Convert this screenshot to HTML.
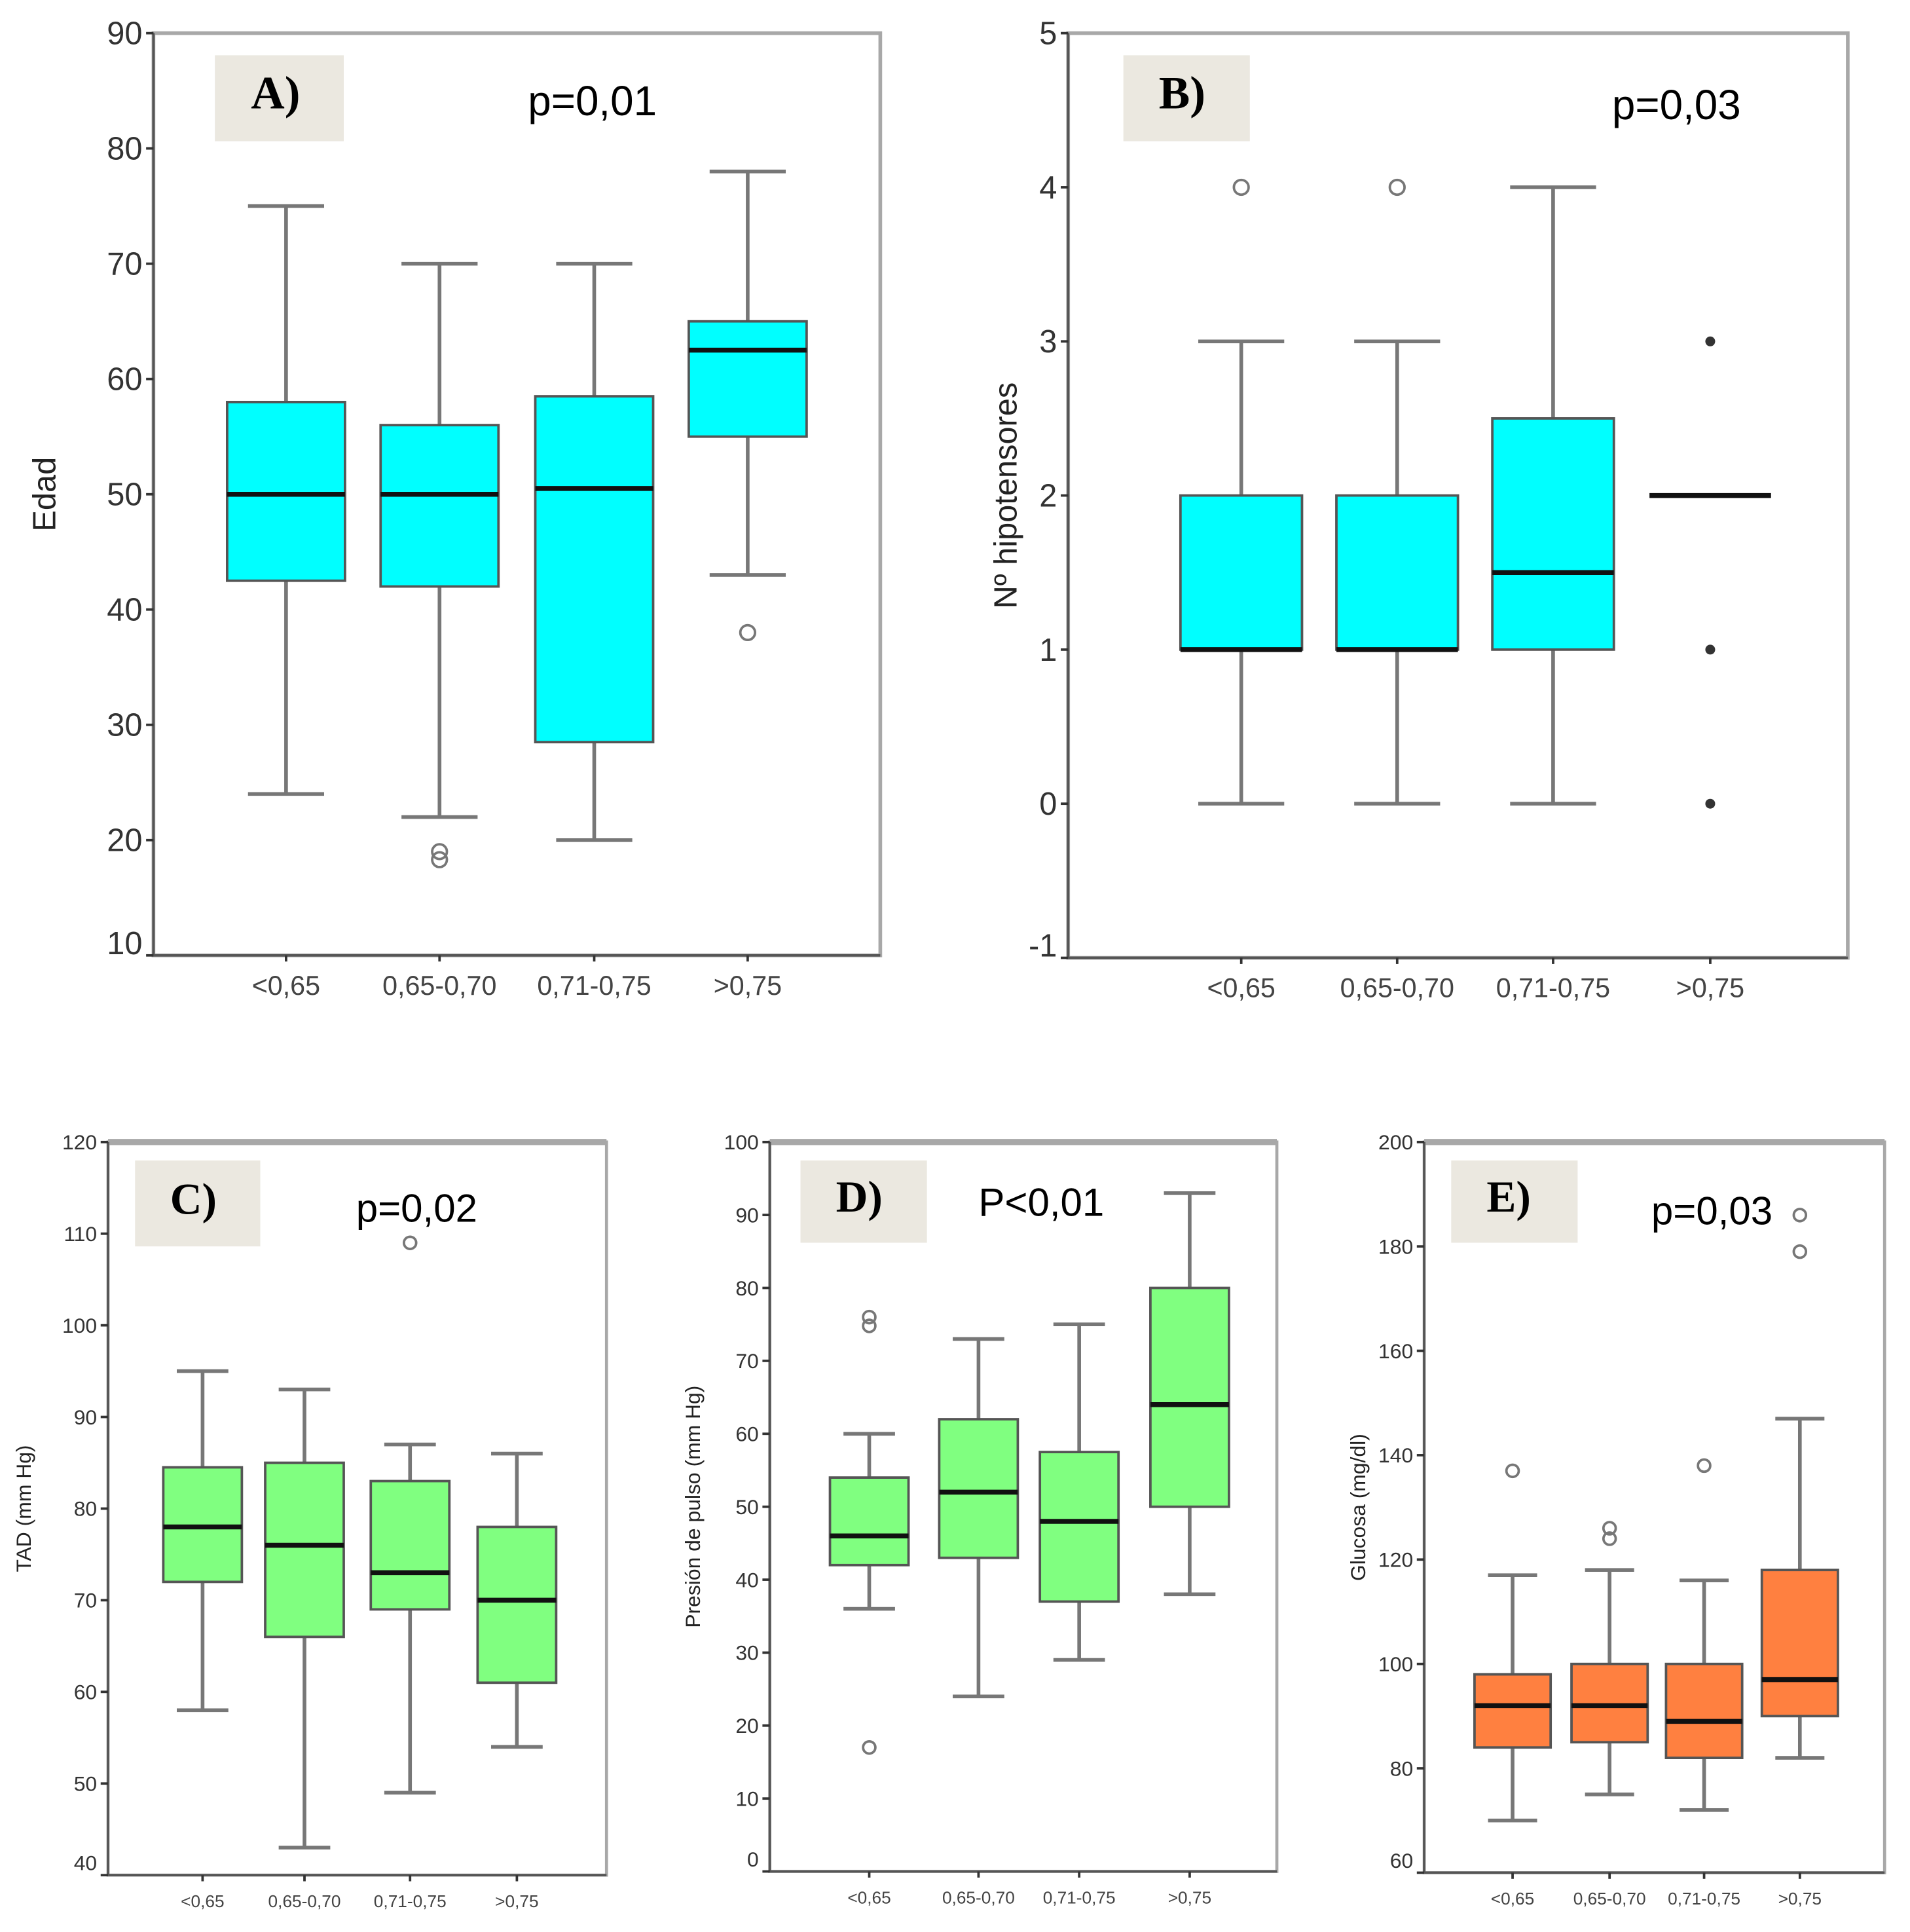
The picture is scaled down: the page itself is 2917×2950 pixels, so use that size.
<!DOCTYPE html>
<html><head><meta charset="utf-8"><style>
html,body{margin:0;padding:0;background:#fff}
svg{display:block}
text{font-family:"Liberation Sans",sans-serif}
text.serif{font-family:"Liberation Serif",serif}
</style></head><body>
<svg id="fig" xmlns="http://www.w3.org/2000/svg" width="2917" height="2950" viewBox="0 0 1555.7 1573.3" preserveAspectRatio="none"></svg>
<script>
const categories = ["<0,65","0,65-0,70","0,71-0,75",">0,75"];
// Panel A: Edad
const aWhiskLo=[24,22,20,43], aQ1=[42.5,42,28.5,55], aMed=[50,50,50.5,62.5], aQ3=[58,56,58.5,65], aWhiskHi=[75,70,70,78];
const aOutliers=[[],[19,18.3],[],[38]];
const aTicks=[10,20,30,40,50,60,70,80,90];
// Panel B: Nº hipotensores
const bWhiskLo=[0,0,0,null], bQ1=[1,1,1,2], bMed=[1,1,1.5,2], bQ3=[2,2,2.5,2], bWhiskHi=[3,3,4,null];
const bOutliers=[[4],[4],[],[]]; const bExtremes=[[],[],[],[3,1,0]];
const bTicks=[-1,0,1,2,3,4,5];
// Panel C: TAD
const cWhiskLo=[58,43,49,54], cQ1=[72,66,69,61], cMed=[78,76,73,70], cQ3=[84.5,85,83,78], cWhiskHi=[95,93,87,86];
const cOutliers=[[],[],[109],[]];
const cTicks=[40,50,60,70,80,90,100,110,120];
// Panel D: Presión de pulso
const dWhiskLo=[36,24,29,38], dQ1=[42,43,37,50], dMed=[46,52,48,64], dQ3=[54,62,57.5,80], dWhiskHi=[60,73,75,93];
const dOutliers=[[76,74.8,17],[],[],[]];
const dTicks=[0,10,20,30,40,50,60,70,80,90,100];
// Panel E: Glucosa
const eWhiskLo=[70,75,72,82], eQ1=[84,85,82,90], eMed=[92,92,89,97], eQ3=[98,100,100,118], eWhiskHi=[117,118,116,147];
const eOutliers=[[137],[124,126],[138],[179,186]];
const eTicks=[60,80,100,120,140,160,180,200];

const NS="http://www.w3.org/2000/svg";
const svg=document.getElementById('fig');
function mk(tag,attrs,parent){const e=document.createElementNS(NS,tag);for(const k in attrs)e.setAttribute(k,attrs[k]);(parent||svg).appendChild(e);return e;}

function panel(cfg){
  const g=mk('g',{});
  
  
  const y=v=>cfg.bottom-(v-cfg.min)/(cfg.max-cfg.min)*(cfg.bottom-cfg.top);
  const fr=mk('rect',{x:cfg.left,y:cfg.top,width:cfg.right-cfg.left,height:cfg.bottom-cfg.top,fill:'#fff',stroke:'#a8a8a8','stroke-width':cfg.big?3:2.5},g);
  
  
  if(!cfg.big){mk('line',{x1:cfg.left,x2:cfg.right,y1:cfg.top,y2:cfg.top,stroke:'#a8a8a8','stroke-width':5},g);}
  mk('line',{x1:cfg.left,x2:cfg.left,y1:cfg.top,y2:cfg.bottom,stroke:'#555','stroke-width':2},g);
  mk('line',{x1:cfg.left,x2:cfg.right,y1:cfg.bottom,y2:cfg.bottom,stroke:'#555','stroke-width':2},g);
  const lb=mk('rect',{x:cfg.lab[0],y:cfg.lab[1],width:cfg.lab[2],height:cfg.lab[3],fill:'#ebe8e0'},g);
  
  
  const lt=mk('text',{x:cfg.lab[0]+cfg.lab[2]*0.28,y:cfg.lab[1]+cfg.lab[3]*0.62,'class':'serif','font-weight':'bold','font-size':cfg.big?38:36},g);
  lt.textContent=cfg.letter;
  
  
  const pt=mk('text',{x:cfg.p[0],y:cfg.p[1],'font-size':cfg.big?34:32},g);
  pt.textContent=cfg.ptext;
  
  
  cfg.ticks.forEach(t=>{
    const yy=y(t);
    mk('line',{x1:cfg.left-6,x2:cfg.left,y1:yy,y2:yy,stroke:'#333','stroke-width':2},g);
    const tx=mk('text',{x:cfg.left-9,y:Math.min(yy,cfg.bottom-10)+(cfg.big?9:6),'text-anchor':'end','font-size':cfg.big?26:17,fill:'#333'},g);
    tx.textContent=t;
    
    
  });
  const yl=mk('text',{transform:`translate(${cfg.ylx},${(cfg.top+cfg.bottom)/2}) rotate(-90)`,'text-anchor':'middle','font-size':cfg.big?26:17,fill:'#222'},g);
  yl.textContent=cfg.ylabel;
  
  
  categories.forEach((c,i)=>{
    const cx=cfg.cx[i];
    mk('line',{x1:cx,x2:cx,y1:cfg.bottom,y2:cfg.bottom+5,stroke:'#333','stroke-width':2},g);
    const xl=mk('text',{x:cx,y:cfg.bottom+(cfg.big?32:26),'text-anchor':'middle','font-size':cfg.big?22:14,fill:'#444'},g);
    xl.textContent=c;
    
    
    const hw=cfg.bw/2, cw=cfg.cw/2;
    if(cfg.wlo[i]!=null){
      mk('line',{x1:cx,x2:cx,y1:y(cfg.wlo[i]),y2:y(cfg.q1[i]),stroke:'#777','stroke-width':3},g);
      mk('line',{x1:cx,x2:cx,y1:y(cfg.q3[i]),y2:y(cfg.whi[i]),stroke:'#777','stroke-width':3},g);
      mk('line',{x1:cx-cw,x2:cx+cw,y1:y(cfg.wlo[i]),y2:y(cfg.wlo[i]),stroke:'#777','stroke-width':3},g);
      mk('line',{x1:cx-cw,x2:cx+cw,y1:y(cfg.whi[i]),y2:y(cfg.whi[i]),stroke:'#777','stroke-width':3},g);
    }
    if(cfg.q3[i]>cfg.q1[i]){
      const b=mk('rect',{x:cx-hw,y:y(cfg.q3[i]),width:cfg.bw,height:y(cfg.q1[i])-y(cfg.q3[i]),fill:cfg.fill,stroke:'#555','stroke-width':2},g);
      
      
    }
    const m=mk('line',{x1:cx-hw,x2:cx+hw,y1:y(cfg.med[i]),y2:y(cfg.med[i]),stroke:'#111','stroke-width':4},g);
    
    
    cfg.out[i].forEach(v=>{
      const o=mk('circle',{cx:cx,cy:y(v),r:cfg.big?6:5,fill:'none',stroke:'#777','stroke-width':2},g);
      
      
    });
    (cfg.ext?cfg.ext[i]:[]).forEach(v=>{
      const o=mk('circle',{cx:cx,cy:y(v),r:4,fill:'#333'},g);
      
      
    });
  });
}

panel({name:'panel-a-edad',big:true,left:125,right:717,top:27,bottom:778,min:10,max:90,ticks:aTicks,
  cx:[233,358,484,609],bw:96,cw:62,fill:'#00ffff',wlo:aWhiskLo,q1:aQ1,med:aMed,q3:aQ3,whi:aWhiskHi,out:aOutliers,
  lab:[175,45,105,70],letter:'A)',p:[430,94],ptext:'p=0,01',ylabel:'Edad',ylx:45});
panel({name:'panel-b-hipotensores',big:true,left:870,right:1505,top:27,bottom:780,min:-1,max:5,ticks:bTicks,
  cx:[1011,1138,1265,1393],bw:99,cw:70,fill:'#00ffff',wlo:bWhiskLo,q1:bQ1,med:bMed,q3:bQ3,whi:bWhiskHi,out:bOutliers,ext:bExtremes,
  lab:[915,45,103,70],letter:'B)',p:[1313,97],ptext:'p=0,03',ylabel:'Nº hipotensores',ylx:828});
panel({name:'panel-c-tad',left:88,right:494,top:930,bottom:1527,min:40,max:120,ticks:cTicks,
  cx:[165,248,334,421],bw:64,cw:42,fill:'#80ff80',wlo:cWhiskLo,q1:cQ1,med:cMed,q3:cQ3,whi:cWhiskHi,out:cOutliers,
  lab:[110,945,102,70],letter:'C)',p:[290,995],ptext:'p=0,02',ylabel:'TAD (mm Hg)',ylx:25});
panel({name:'panel-d-presion-pulso',left:627,right:1040,top:930,bottom:1524,min:0,max:100,ticks:dTicks,
  cx:[708,797,879,969],bw:64,cw:42,fill:'#80ff80',wlo:dWhiskLo,q1:dQ1,med:dMed,q3:dQ3,whi:dWhiskHi,out:dOutliers,
  lab:[652,945,103,67],letter:'D)',p:[797,990],ptext:'P<0,01',ylabel:'Presión de pulso (mm Hg)',ylx:570});
panel({name:'panel-e-glucosa',left:1160,right:1535,top:930,bottom:1525,min:60,max:200,ticks:eTicks,
  cx:[1232,1311,1388,1466],bw:62,cw:40,fill:'#ff8040',wlo:eWhiskLo,q1:eQ1,med:eMed,q3:eQ3,whi:eWhiskHi,out:eOutliers,
  lab:[1182,945,103,67],letter:'E)',p:[1345,997],ptext:'p=0,03',ylabel:'Glucosa (mg/dl)',ylx:1112});
</script>
</body></html>
